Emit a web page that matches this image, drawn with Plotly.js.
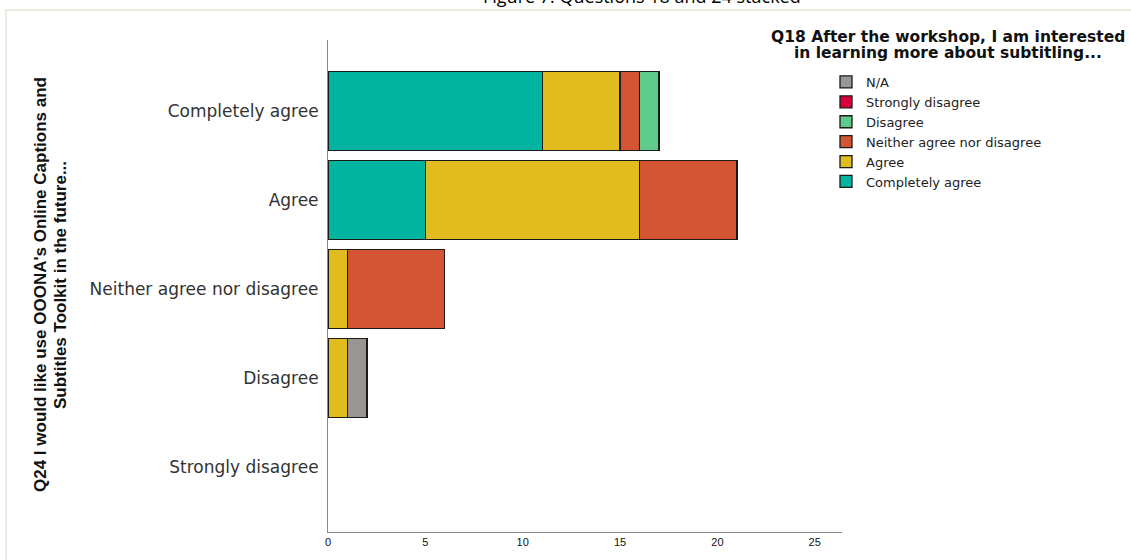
<!DOCTYPE html>
<html>
<head>
<meta charset="utf-8">
<script src="https://cdn.plot.ly/plotly-3.0.1.min.js"></script>
<style>
html,body{margin:0;padding:0;background:#fff;}
#frame{position:absolute;left:5px;top:9px;width:1126px;height:551px;border-left:2px solid #eeecdf;border-top:2px solid #eeecdf;pointer-events:none;}
#chart{width:1131px;height:560px;}
</style>
</head>
<body>
<div id="chart"></div>
<div id="frame"></div>
<script>
// Q24 categories (y axis)
var categories = ["Completely agree", "Agree", "Neither agree nor disagree", "Disagree", "Strongly disagree"];
// Q18 response series (counts per Q24 category)
var completelyAgree = [11, 5, null, null, null];
var agree = [4, 11, 1, 1, null];
var neither = [1, 5, 5, null, null];
var disagree = [1, null, null, null, null];
var stronglyDisagree = [null, null, null, null, null];
var na = [null, null, null, 1, null];
var seriesNames = ["Completely agree", "Agree", "Neither agree nor disagree", "Disagree", "Strongly disagree", "N/A"];
var seriesColors = ["#00b4a0", "#e0bc1e", "#d35534", "#5ecb8a", "#d8003a", "#999592"];
var xTicks = [0, 5, 10, 15, 20, 25];

var seriesValues = [completelyAgree, agree, neither, disagree, stronglyDisagree, na];
var traces = seriesValues.map(function (vals, i) {
  return {
    type: "bar",
    orientation: "h",
    name: seriesNames[i],
    y: categories,
    x: vals,
    marker: {color: seriesColors[i], line: {color: "#1a1a1a", width: 1.3}},
    hoverinfo: "x+name"
  };
});

var W = 514, H = 492, L = 328, T = 40;
function px(x) { return (x - L) / W; }
function py(y) { return (T + H - y) / H; }

var layout = {
  width: 1131, height: 560,
  margin: {l: 328, r: 289, t: 40, b: 28, pad: 0},
  barmode: "stack",
  bargap: 0.11,
  paper_bgcolor: "#fff",
  plot_bgcolor: "#fff",
  font: {family: "Liberation Sans, Arial, sans-serif", color: "#222"},
  showlegend: true,
  legend: {
    traceorder: "reversed",
    x: px(826), xanchor: "left", xref: "paper",
    y: py(67), yanchor: "top",
    font: {size: 13, color: "#222", family: "DejaVu Sans, sans-serif"},
    itemwidth: 30,
    tracegroupgap: 0,
    borderwidth: 0,
    bgcolor: "rgba(0,0,0,0)"
  },
  xaxis: {
    range: [0, 26.4],
    tickvals: xTicks,
    ticktext: xTicks.map(String),
    showgrid: false,
    zeroline: false,
    showline: true,
    linecolor: "#888",
    linewidth: 1,
    ticks: "",
    tickfont: {size: 11, color: "#111"},
    fixedrange: true
  },
  yaxis: {
    type: "category",
    categoryorder: "array",
    categoryarray: categories,
    range: [4.73, -0.8],
    showgrid: false,
    zeroline: false,
    showline: true,
    linecolor: "#888",
    linewidth: 1,
    ticks: "",
    ticklabelstandoff: 5,
    tickfont: {size: 17, color: "#333", family: "DejaVu Sans, sans-serif"},
    fixedrange: true
  },
  annotations: [
    {
      text: "Q24 I would like use OOONA's Online Captions and",
      textangle: -90,
      xref: "paper", yref: "paper",
      x: px(40), y: py(285),
      xanchor: "center", yanchor: "middle",
      showarrow: false,
      font: {size: 17, color: "#111", family: "Liberation Sans, Arial, sans-serif", weight: "bold"}
    },
    {
      text: "Subtitles Toolkit in the future...",
      textangle: -90,
      xref: "paper", yref: "paper",
      x: px(60), y: py(285),
      xanchor: "center", yanchor: "middle",
      showarrow: false,
      font: {size: 17, color: "#111", family: "Liberation Sans, Arial, sans-serif", weight: "bold"}
    },
    {
      text: "Q18 After the workshop, I am interested",
      xref: "paper", yref: "paper",
      x: px(948), y: py(37),
      xanchor: "center", yanchor: "middle",
      showarrow: false,
      font: {size: 15.5, color: "#111", family: "DejaVu Sans, sans-serif", weight: "bold"}
    },
    {
      text: "in learning more about subtitling...",
      xref: "paper", yref: "paper",
      x: px(948), y: py(53),
      xanchor: "center", yanchor: "middle",
      showarrow: false,
      font: {size: 15.5, color: "#111", family: "DejaVu Sans, sans-serif", weight: "bold"}
    },
    {
      text: "Figure 7: Questions 18 and 24 stacked",
      xref: "paper", yref: "paper",
      x: px(642), y: py(-4),
      xanchor: "center", yanchor: "middle",
      showarrow: false,
      font: {size: 18, color: "#000", family: "Open Sans, Liberation Sans, sans-serif"}
    }
  ]
};

Plotly.newPlot("chart", traces, layout, {displayModeBar: false, staticPlot: true});
</script>
</body>
</html>
